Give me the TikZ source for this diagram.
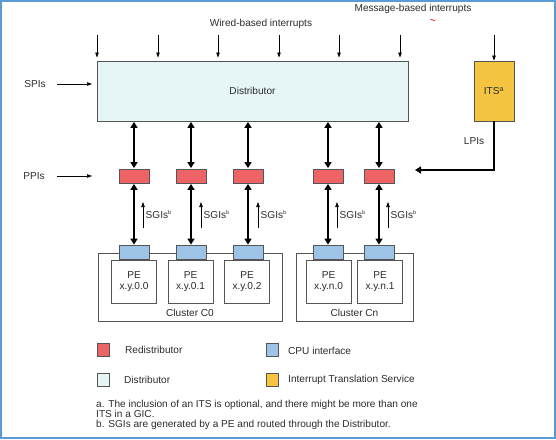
\documentclass[tikz,border=0pt]{standalone}
\usepackage{fontspec}
\setmainfont{Liberation Sans}
\usetikzlibrary{arrows.meta}
\definecolor{distfill}{HTML}{E6F6F7}
\definecolor{redfill}{HTML}{EE6466}
\definecolor{bluefill}{HTML}{9DC3E6}
\definecolor{itsfill}{HTML}{F5C542}
\definecolor{frameblue}{HTML}{5B9BD5}
\definecolor{edge}{HTML}{555555}
\definecolor{txt}{HTML}{2B2B2B}
\tikzset{
  every node/.style={font=\fontsize{10.1}{11}\selectfont, text=txt, inner sep=0pt},
  blk/.style={draw=edge, line width=0.8pt, minimum height=0pt},
  redi/.style={blk, fill=redfill, minimum width=30pt, minimum height=14pt},
  cpui/.style={blk, fill=bluefill, minimum width=30pt, minimum height=14pt},
  pe/.style={draw=edge, line width=0.6pt, fill=white, minimum width=45pt, minimum height=43pt, align=center},
  cluster/.style={draw=edge, line width=0.6pt},
  thin/.style={draw=black, line width=0.6pt, -{Triangle[length=5pt,width=3.5pt]}},
  thick/.style={draw=black, line width=1.8pt, {Triangle[length=6pt,width=7pt]}-{Triangle[length=6pt,width=7pt]}, shorten <=0.5pt, shorten >=0.5pt},
  legsq/.style={draw=edge, line width=0.6pt, minimum width=12pt, minimum height=13pt},
  lab/.style={anchor=west},
}
\begin{document}
\begin{tikzpicture}[x=1pt,y=-1pt]
\useasboundingbox (0,0) rectangle (556,439);
\draw[frameblue, line width=1.6pt] (0.8,0.8) rectangle (555,438.2);

% Distributor and ITS
\node[blk, fill=distfill, minimum width=311pt, minimum height=60pt] (dist) at (252.5,91) {Distributor};
\node[blk, fill=itsfill, minimum width=40pt, minimum height=60pt] (its) at (494,91) {ITS\textsuperscript{a}};

% top labels
\node (wired) at (261,24) {Wired-based interrupts};
\node (msg) at (413,9) {Message-based interrupts};
\draw[red, line width=0.8pt] (430.5,19.5) -- (435,20.5);

% top interrupt arrows
\foreach \x [count=\i] in {97,158,218,279,339,400} {
  \coordinate (w\i) at (\x,35);
  \draw[thin] (w\i) -- (\x,57.5);
}
\coordinate (m1) at (494,35);
\draw[thin] (m1) -- (its.north);

% SPIs / PPIs
\node (spis) at (35,84) {SPIs};
\coordinate (spisend) at (57,84);
\draw[thin] (spisend) -- (92,84);
\node (ppis) at (34,176) {PPIs};
\coordinate (ppisend) at (57,176);
\draw[thin] (ppisend) -- (92,176);

% Redistributors
\foreach \n/\x in {r1/134,r2/191,r3/248,r4/328,r5/379} {
  \node[redi] (\n) at (\x,176) {};
}

% clusters
\node[cluster, minimum width=184pt, minimum height=68pt] (c0) at (190,287) {};
\node[cluster, minimum width=117pt, minimum height=68pt] (cn) at (354.5,287) {};
\node (c0lab) at (190,313) {Cluster C0};
\node (cnlab) at (354.5,313) {Cluster Cn};

\foreach \n/\x/\t in {p1/134/x.y.0.0, p2/190.5/x.y.0.1, p3/247/x.y.0.2, p4/328.5/x.y.n.0, p5/380/x.y.n.1} {
  \node[pe] (\n) at (\x,281.5) {PE\\[-0.5pt]\t};
}
\foreach \n/\x in {c1/134,c2/191,c3/248,c4/328,c5/379} {
  \node[cpui] (\n) at (\x,252.5) {};
}

% thick arrows
\foreach \i in {1,...,5} {
  \draw[thick] (r\i |- dist.south) -- (r\i.north);
  \draw[thick] (r\i.south) -- (c\i.north);
}

% SGIs
\foreach \i/\x in {1/143,2/201,3/258,4/337,5/388} {
  \coordinate (s\i) at (\x,228);
  \draw[thin] (s\i) -- (\x,202);
  \node[lab] (sl\i) at (\x+2.5,214.5) {SGIs\textsuperscript{\fontsize{5.5}{5.5}\selectfont b}};
}

% LPIs
\node (lpis) at (474,141) {LPIs};
\coordinate (lpiend) at (415,170);
\draw[line width=1.8pt, -{Triangle[length=6pt,width=7pt]}] (its.south) |- (lpiend);

% legend
\node[legsq, fill=redfill] (lg1) at (103,350) {};
\node[lab] (lt1) at (125,349.5) {Redistributor};
\node[legsq, fill=bluefill] (lg2) at (272,350) {};
\node[lab] (lt2) at (288,350.5) {CPU interface};
\node[legsq, fill=distfill] (lg3) at (103,379.5) {};
\node[lab] (lt3) at (124,379.5) {Distributor};
\node[legsq, fill=itsfill] (lg4) at (272,379.5) {};
\node[lab] (lt4) at (288,379.5) {Interrupt Translation Service};

\node[anchor=north west, align=left, font=\fontsize{10.1}{9.8}\selectfont] (notes) at (96,400) {a. The inclusion of an ITS is optional, and there might be more than one\\ITS in a GIC.\\b. SGIs are generated by a PE and routed through the Distributor.};
\end{tikzpicture}
\end{document}
